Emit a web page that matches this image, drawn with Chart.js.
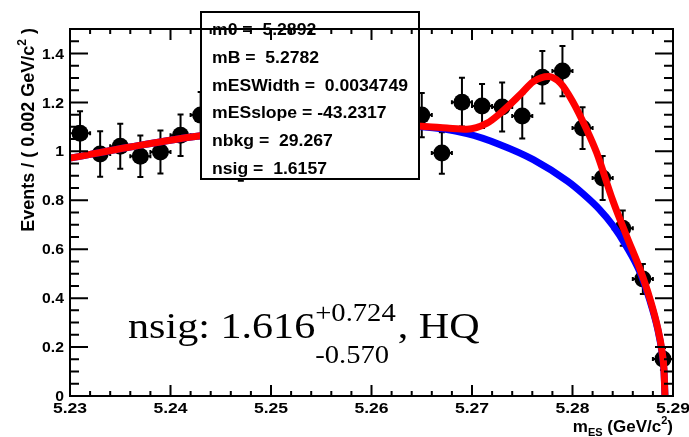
<!DOCTYPE html>
<html>
<head>
<meta charset="utf-8">
<script src="https://cdn.jsdelivr.net/npm/chart.js@4.4.1/dist/chart.umd.min.js"></script>
<style>
  html, body { margin: 0; padding: 0; background: #fff; }
  canvas { display: block; }
</style>
</head>
<body>
<canvas id="mes-chart" width="689" height="437"></canvas>
<script>
// data: bin centres (GeV/c^2), events per bin, errors
const binCenters = [5.231, 5.233, 5.235, 5.237, 5.239, 5.241, 5.243, 5.245, 5.247, 5.249,
                    5.251, 5.253, 5.255, 5.257, 5.259, 5.261, 5.263, 5.265, 5.267, 5.269,
                    5.271, 5.273, 5.275, 5.277, 5.279, 5.281, 5.283, 5.285, 5.287, 5.289];
const events = [1.074, 0.989, 1.021, 0.980, 0.997, 1.066, 1.148, 1.10, 0.97, 1.06,
                1.13, 1.04, 1.09, 1.16, 1.08, 1.05, 1.12, 1.148, 0.993, 1.201,
                1.185, 1.181, 1.144, 1.303, 1.328, 1.095, 0.891, 0.686, 0.478, 0.151];
const errors = [0.090, 0.093, 0.092, 0.085, 0.088, 0.085, 0.095, 0.09, 0.09, 0.09,
                0.09, 0.09, 0.09, 0.09, 0.09, 0.09, 0.09, 0.090, 0.085, 0.100,
                0.090, 0.100, 0.092, 0.107, 0.103, 0.085, 0.090, 0.072, 0.061, 0.045];

// background fit (blue)
const bkgMass = [5.230, 5.236, 5.243, 5.250, 5.255, 5.260, 5.265, 5.2695, 5.2728, 5.2761,
                 5.2795, 5.2810, 5.2827, 5.2840, 5.2854, 5.2867, 5.2877, 5.2885, 5.2889, 5.2891, 5.2892];
const bkgValues = [0.972, 1.018, 1.064, 1.090, 1.100, 1.104, 1.100, 1.072, 1.027, 0.966,
                   0.878, 0.828, 0.762, 0.698, 0.609, 0.507, 0.390, 0.270, 0.180, 0.105, 0];

// total fit (red)
const totalMass = [5.230, 5.236, 5.243, 5.250, 5.255, 5.260, 5.265, 5.2675, 5.2695, 5.2715,
                   5.2728, 5.2748, 5.2761, 5.2776, 5.2788, 5.2800, 5.2814, 5.2824, 5.2840, 5.2854,
                   5.2867, 5.2877, 5.2885, 5.2889, 5.2891, 5.2892];
const totalValues = [0.972, 1.018, 1.064, 1.090, 1.100, 1.106, 1.103, 1.095, 1.090, 1.115,
                     1.155, 1.232, 1.285, 1.306, 1.279, 1.205, 1.090, 0.995, 0.800, 0.652,
                     0.520, 0.398, 0.274, 0.185, 0.108, 0];

const xTicks = [5.23, 5.24, 5.25, 5.26, 5.27, 5.28, 5.29];
const yTicks = [0, 0.2, 0.4, 0.6, 0.8, 1, 1.2, 1.4];

const fitParams = ["m0 =  5.2892", "mB =  5.2782", "mESWidth =  0.0034749",
                   "mESslope = -43.2317", "nbkg =  29.267", "nsig =  1.6157"];

const SANS = '"Liberation Sans", Arial, sans-serif';
const SERIF = '"Liberation Serif", "Times New Roman", serif';

function pts(xs, ys) {
  return xs.map((x, i) => ({ x: x, y: ys[i] }));
}

// text drawn a bit wider than normal, like the original canvas
function stretchText(ctx, s, x, y, font, sx, align) {
  ctx.save();
  ctx.font = font;
  const w = ctx.measureText(s).width * sx;
  let x0 = x;
  if (align === 'right') x0 = x - w;
  else if (align === 'center') x0 = x - w / 2;
  ctx.translate(x0, y);
  ctx.scale(sx, 1);
  ctx.textAlign = 'left';
  ctx.fillText(s, 0, 0);
  ctx.restore();
  return w;
}

function textWidth(ctx, s, font, sx) {
  ctx.save();
  ctx.font = font;
  const w = ctx.measureText(s).width * sx;
  ctx.restore();
  return w;
}

const rootPlot = {
  id: 'rootPlot',
  beforeDatasetsDraw(chart) {
    const ctx = chart.ctx, xs = chart.scales.x, ys = chart.scales.y;
    ctx.save();
    ctx.strokeStyle = '#000';
    ctx.lineWidth = 2;
    binCenters.forEach((m, i) => {
      const px = xs.getPixelForValue(m);
      const py = ys.getPixelForValue(events[i]);
      const top = ys.getPixelForValue(events[i] + errors[i]);
      const bot = ys.getPixelForValue(events[i] - errors[i]);
      const l = xs.getPixelForValue(m - 0.001);
      const r = xs.getPixelForValue(m + 0.001);
      ctx.beginPath();
      ctx.moveTo(px, top); ctx.lineTo(px, bot);
      ctx.moveTo(px - 3, top); ctx.lineTo(px + 3, top);
      ctx.moveTo(px - 3, bot); ctx.lineTo(px + 3, bot);
      ctx.moveTo(l, py); ctx.lineTo(r, py);
      ctx.moveTo(l, py - 2); ctx.lineTo(l, py + 2);
      ctx.moveTo(r, py - 2); ctx.lineTo(r, py + 2);
      ctx.stroke();
    });
    ctx.restore();
  },
  afterDatasetsDraw(chart) {
    const ctx = chart.ctx, xs = chart.scales.x, ys = chart.scales.y;
    const a = chart.chartArea;
    ctx.save();
    ctx.fillStyle = '#000';
    ctx.textBaseline = 'alphabetic';

    // parameter box
    ctx.fillStyle = '#fff';
    ctx.fillRect(201, 12, 218, 167);
    ctx.strokeStyle = '#000';
    ctx.lineWidth = 2;
    ctx.strokeRect(201, 12, 218, 167);
    ctx.fillStyle = '#000';
    fitParams.forEach((s, i) => {
      stretchText(ctx, s, 212, 35 + i * 27.8, 'bold 16px ' + SANS, 1.1, 'left');
    });

    // frame
    ctx.lineWidth = 2;
    ctx.strokeRect(a.left, a.top, a.right - a.left, a.bottom - a.top);

    // ticks, inward on all four sides
    ctx.beginPath();
    for (let v = 0; v <= 1.5 + 1e-9; v += 0.05) {
      const py = ys.getPixelForValue(v);
      const major = Math.abs(v / 0.2 - Math.round(v / 0.2)) < 1e-6;
      const len = major ? 18 : 9;
      ctx.moveTo(a.left, py); ctx.lineTo(a.left + len, py);
      ctx.moveTo(a.right, py); ctx.lineTo(a.right - len, py);
    }
    for (let k = 0; k <= 30; k++) {
      const px = xs.getPixelForValue(5.23 + k * 0.002);
      const len = k % 5 === 0 ? 11 : 5;
      ctx.moveTo(px, a.bottom); ctx.lineTo(px, a.bottom - len);
      ctx.moveTo(px, a.top); ctx.lineTo(px, a.top + len);
    }
    ctx.stroke();

    // tick labels
    ctx.textBaseline = 'middle';
    yTicks.forEach(v => {
      stretchText(ctx, String(+v.toFixed(1)), 64, ys.getPixelForValue(v) + 1,
                  'bold 15px ' + SANS, 1.05, 'right');
    });
    ctx.textBaseline = 'alphabetic';
    xTicks.forEach(v => {
      stretchText(ctx, v.toFixed(2), xs.getPixelForValue(v), 413,
                  'bold 15px ' + SANS, 1.17, 'center');
    });

    // y title, rotated, ending at the top of the axis
    const yBig = 'bold 18px ' + SANS, ySmall = 'bold 12px ' + SANS;
    const y1 = 'Events / ( 0.002 GeV/c', y2 = '2', y3 = ' )';
    const wy = textWidth(ctx, y1, yBig, 1) + textWidth(ctx, y2, ySmall, 1) + textWidth(ctx, y3, yBig, 1);
    ctx.save();
    ctx.translate(34, 28);
    ctx.rotate(-Math.PI / 2);
    let cx = -wy;
    cx += stretchText(ctx, y1, cx, 0, yBig, 1, 'left');
    cx += stretchText(ctx, y2, cx, -8, ySmall, 1, 'left');
    stretchText(ctx, y3, cx, 0, yBig, 1, 'left');
    ctx.restore();

    // x title
    const xBig = 'bold 17px ' + SANS, xSmall = 'bold 11px ' + SANS;
    const parts = [['m', xBig, 0], ['ES', xSmall, 4], [' (GeV/c', xBig, 0], ['2', xSmall, -8], [')', xBig, 0]];
    let wx = 0;
    parts.forEach(p => { wx += textWidth(ctx, p[0], p[1], 1); });
    let tx = a.right - wx;
    parts.forEach(p => { tx += stretchText(ctx, p[0], tx, 432 + p[2], p[1], 1, 'left'); });

    // nsig result
    const big = '36px ' + SERIF, small = '26px ' + SERIF;
    let nx = 128;
    nx += stretchText(ctx, 'nsig: 1.616', nx, 338, big, 1.17, 'left');
    const wSup = stretchText(ctx, '+0.724', nx, 321, small, 1.1, 'left');
    const wSub = stretchText(ctx, '-0.570', nx, 363, small, 1.1, 'left');
    nx += Math.max(wSup, wSub) + 2;
    stretchText(ctx, ', HQ', nx, 338, big, 1.17, 'left');

    ctx.restore();
  }
};

new Chart(document.getElementById('mes-chart'), {
  type: 'scatter',
  data: {
    datasets: [
      {
        label: 'data',
        data: pts(binCenters, events),
        pointRadius: 8.5,
        pointBackgroundColor: '#000',
        pointBorderWidth: 0,
        showLine: false,
        order: 3
      },
      {
        label: 'background',
        data: pts(bkgMass, bkgValues),
        showLine: true,
        pointRadius: 0,
        borderColor: '#0000ff',
        borderWidth: 7,
        cubicInterpolationMode: 'monotone',
        clip: 0,
        order: 2
      },
      {
        label: 'total',
        data: pts(totalMass, totalValues),
        showLine: true,
        pointRadius: 0,
        borderColor: '#ff0000',
        borderWidth: 7,
        cubicInterpolationMode: 'monotone',
        clip: 0,
        order: 1
      }
    ]
  },
  options: {
    responsive: false,
    animation: false,
    devicePixelRatio: 1,
    events: [],
    layout: { padding: { left: 70, right: 16, top: 29, bottom: 41 } },
    plugins: { legend: { display: false }, tooltip: { enabled: false } },
    scales: {
      x: { type: 'linear', min: 5.23, max: 5.29, display: false },
      y: { type: 'linear', min: 0, max: 1.5, display: false }
    }
  },
  plugins: [rootPlot]
});
</script>
</body>
</html>
